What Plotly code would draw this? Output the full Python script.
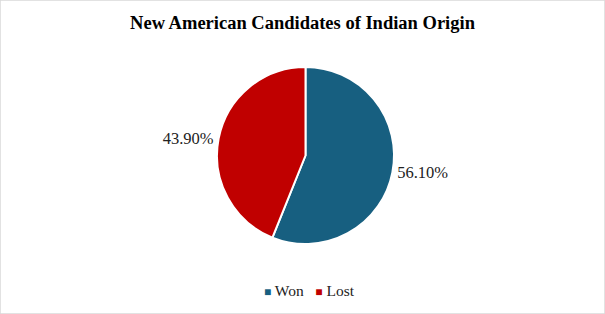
import plotly.graph_objects as go

labels = ["Won", "Lost"]
values = [56.10, 43.90]
colors = ["#175F80", "#C00000"]

SERIF = "'Liberation Serif', 'Times New Roman', Times, serif"
W, H = 605, 314
fig = go.Figure(go.Pie(
    labels=labels,
    values=values,
    marker=dict(colors=colors, line=dict(color="white", width=2)),
    sort=False,
    direction="clockwise",
    rotation=0,
    textposition="outside",
    texttemplate="%{percent:.2%}",
    textfont=dict(family=SERIF, size=16.5, color="#222222"),
    domain=dict(x=[217 / W, 394 / W], y=[1 - 244 / H, 1 - 67 / H]),
    automargin=False,
    hoverinfo="label+percent",
    showlegend=False,
))

legend_text = "   ".join(
    f"<span style='color:{c};font-size:12px'>■</span> {l}" for l, c in zip(labels, colors)
)
fig.update_layout(
    width=W, height=H,
    margin=dict(l=0, r=0, t=0, b=0),
    paper_bgcolor="white",
    title=dict(text="<b>New American Candidates of Indian Origin</b>",
               x=0.5, xanchor="center", y=1 - 23 / H, yanchor="middle",
               font=dict(family=SERIF, size=18.5, color="#000000")),
    annotations=[dict(text=legend_text, xref="paper", yref="paper", x=309 / W, y=1 - 290 / H,
                      xanchor="center", yanchor="middle", showarrow=False,
                      font=dict(family=SERIF, size=15.5, color="#222222"))],
    shapes=[dict(type="rect", xref="paper", yref="paper", x0=0, y0=0, x1=1, y1=1,
                 line=dict(color="#D9D9D9", width=1.5))],
)
fig.write_html("out.html", config={"displayModeBar": False},
               post_script="document.body.style.margin='0px';")
